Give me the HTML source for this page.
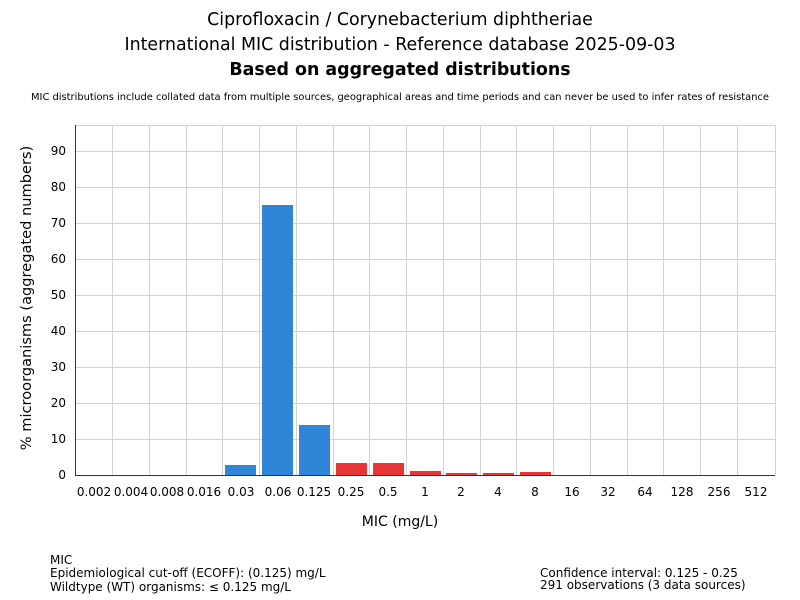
<!DOCTYPE html>
<html><head><meta charset="utf-8"><style>body{margin:0;background:#fff}svg{display:block}</style></head><body>
<svg width="800" height="600" xmlns="http://www.w3.org/2000/svg" font-family="'DejaVu Sans','Liberation Sans',sans-serif">
<rect width="800" height="600" fill="#fff"/>
<text x="400" y="25" text-anchor="middle" font-size="17.4">Ciprofloxacin / Corynebacterium diphtheriae</text>
<text x="400" y="50" text-anchor="middle" font-size="17.4">International MIC distribution - Reference database 2025-09-03</text>
<text x="400" y="75" text-anchor="middle" font-size="17.4" font-weight="bold">Based on aggregated distributions</text>
<text x="400" y="100" text-anchor="middle" font-size="9.9">MIC distributions include collated data from multiple sources, geographical areas and time periods and can never be used to infer rates of resistance</text>
<g stroke="#d3d3d3" stroke-width="1">
<line x1="76" y1="439.5" x2="775" y2="439.5"/><line x1="76" y1="403.5" x2="775" y2="403.5"/><line x1="76" y1="367.5" x2="775" y2="367.5"/><line x1="76" y1="331.5" x2="775" y2="331.5"/><line x1="76" y1="295.5" x2="775" y2="295.5"/><line x1="76" y1="259.5" x2="775" y2="259.5"/><line x1="76" y1="223.5" x2="775" y2="223.5"/><line x1="76" y1="187.5" x2="775" y2="187.5"/><line x1="76" y1="151.5" x2="775" y2="151.5"/><line x1="76" y1="125.5" x2="775" y2="125.5"/>
<line x1="112.5" y1="125" x2="112.5" y2="475"/><line x1="149.5" y1="125" x2="149.5" y2="475"/><line x1="186.5" y1="125" x2="186.5" y2="475"/><line x1="222.5" y1="125" x2="222.5" y2="475"/><line x1="259.5" y1="125" x2="259.5" y2="475"/><line x1="296.5" y1="125" x2="296.5" y2="475"/><line x1="333.5" y1="125" x2="333.5" y2="475"/><line x1="369.5" y1="125" x2="369.5" y2="475"/><line x1="406.5" y1="125" x2="406.5" y2="475"/><line x1="443.5" y1="125" x2="443.5" y2="475"/><line x1="480.5" y1="125" x2="480.5" y2="475"/><line x1="516.5" y1="125" x2="516.5" y2="475"/><line x1="553.5" y1="125" x2="553.5" y2="475"/><line x1="590.5" y1="125" x2="590.5" y2="475"/><line x1="627.5" y1="125" x2="627.5" y2="475"/><line x1="663.5" y1="125" x2="663.5" y2="475"/><line x1="700.5" y1="125" x2="700.5" y2="475"/><line x1="737.5" y1="125" x2="737.5" y2="475"/><line x1="775.5" y1="125" x2="775.5" y2="475"/>
</g>
<line x1="75.5" y1="125" x2="75.5" y2="475" stroke="#333"/>
<line x1="75" y1="475.5" x2="775" y2="475.5" stroke="#333"/>
<g fill="#2f86d9">
<rect x="225" y="465" width="31" height="10"/>
<rect x="262" y="205" width="31" height="270"/>
<rect x="299" y="425" width="31" height="50"/>
</g>
<g fill="#e83535">
<rect x="336" y="463" width="31" height="12"/>
<rect x="373" y="463" width="31" height="12"/>
<rect x="410" y="471" width="31" height="4"/>
<rect x="446" y="473" width="31" height="2"/>
<rect x="483" y="473" width="31" height="2"/>
<rect x="520" y="472" width="31" height="3"/>
</g>
<g font-size="12" text-anchor="end">
<text x="66" y="479">0</text><text x="66" y="443">10</text><text x="66" y="407">20</text><text x="66" y="371">30</text><text x="66" y="335">40</text><text x="66" y="299">50</text><text x="66" y="263">60</text><text x="66" y="227">70</text><text x="66" y="191">80</text><text x="66" y="155">90</text>
</g>
<g font-size="12" text-anchor="middle">
<text x="94" y="496">0.002</text><text x="131" y="496">0.004</text><text x="167" y="496">0.008</text><text x="204" y="496">0.016</text><text x="241" y="496">0.03</text><text x="278" y="496">0.06</text><text x="314" y="496">0.125</text><text x="351" y="496">0.25</text><text x="388" y="496">0.5</text><text x="425" y="496">1</text><text x="461" y="496">2</text><text x="498" y="496">4</text><text x="535" y="496">8</text><text x="572" y="496">16</text><text x="608" y="496">32</text><text x="645" y="496">64</text><text x="682" y="496">128</text><text x="719" y="496">256</text><text x="756" y="496">512</text>
</g>
<text x="400" y="526" text-anchor="middle" font-size="14">MIC (mg/L)</text>
<text transform="translate(31,298) rotate(-90)" text-anchor="middle" font-size="14.6">% microorganisms (aggregated numbers)</text>
<g font-size="12">
<text x="50" y="564">MIC</text>
<text x="50" y="577">Epidemiological cut-off (ECOFF): (0.125) mg/L</text>
<text x="50" y="591">Wildtype (WT) organisms: ≤ 0.125 mg/L</text>
<text x="540" y="577">Confidence interval: 0.125 - 0.25</text>
<text x="540" y="589">291 observations (3 data sources)</text>
</g>
</svg>
</body></html>
